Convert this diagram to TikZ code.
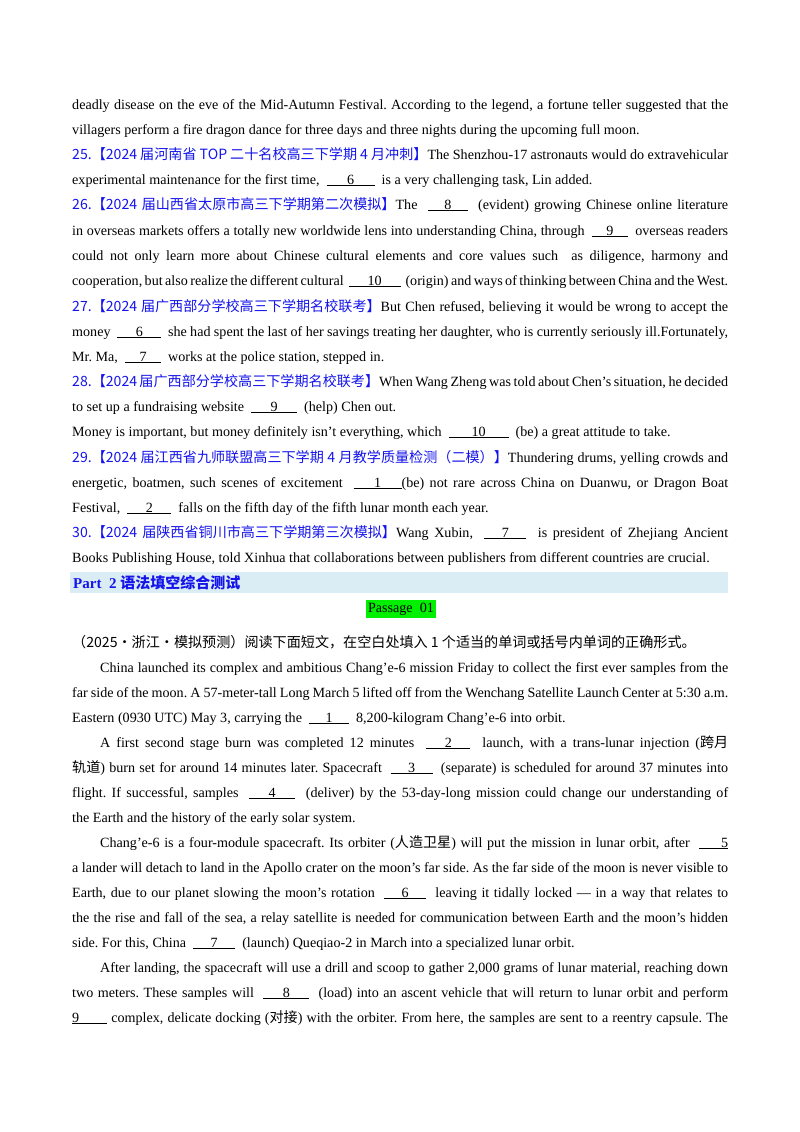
\documentclass[tikz,border=0pt]{standalone}
\usepackage{fontspec}
\setmainfont{Liberation Serif}
\newfontfamily\cjk{Noto Sans CJK SC}
\definecolor{labelblue}{RGB}{20,20,235}
\definecolor{barblue}{RGB}{218,236,244}
\definecolor{passgreen}{RGB}{0,240,0}
\frenchspacing
\newcommand\fl[2][656]{\makebox[#1pt][s]{#2}}
\newcommand\blank[2]{\underline{\makebox[#1pt]{#2}}}
\newcommand\tag[1]{{\color{labelblue}\cjk #1}}
\begin{document}
\begin{tikzpicture}[x=1pt,y=-1pt,
  txt/.style={anchor=base west,inner sep=0pt,font=\fontsize{14.1}{16}\selectfont},
  bar/.style={fill=barblue,draw=none},
  passage/.style={fill=passgreen,inner sep=2.5pt,font=\fontsize{14.1}{16}\selectfont}]
\useasboundingbox (0,0) rectangle (800,1132);
% first exercise block
\node[txt] (l1) at (72,109) {\fl{deadly disease on the eve of the Mid-Autumn Festival. According to the legend, a fortune teller suggested that the}};
\node[txt] (l2) at (72,134) {villagers perform a fire dragon dance for three days and three nights during the upcoming full moon.};
\node[txt] (l3) at (72,159) {\fl{\tag{25.【2024 届河南省 TOP 二十名校高三下学期 4 月冲刺】}The Shenzhou-17 astronauts would do extravehicular}};
\node[txt] (l4) at (72,184) {experimental maintenance for the first time, \ \blank{48}{6} \ is a very challenging task, Lin added.};
\node[txt] (l5) at (72,209) {\fl{\tag{26.【2024 届山西省太原市高三下学期第二次模拟】}The \ \blank{40}{8} \ (evident) growing Chinese online literature}};
\node[txt] (l6) at (72,235) {\fl{in overseas markets offers a totally new worldwide lens into understanding China, through \ \blank{36}{9} \ overseas readers}};
\node[txt] (l7) at (72,260) {\fl{could not only learn more about Chinese cultural elements and core values such \ as diligence, harmony and}};
\node[txt] (l8) at (72,285) {\fl{cooperation, but also realize the different cultural \ \blank{52}{10} \ (origin) and ways of thinking between China and the West.}};
\node[txt] (l9) at (72,311) {\fl{\tag{27.【2024 届广西部分学校高三下学期名校联考】}But Chen refused, believing it would be wrong to accept the}};
\node[txt] (l10) at (72,336) {\fl{money \ \blank{44}{6} \ she had spent the last of her savings treating her daughter, who is currently seriously ill.Fortunately,}};
\node[txt] (l11) at (72,361) {Mr. Ma, \ \blank{36}{7} \ works at the police station, stepped in.};
\node[txt] (l12) at (72,386) {\fl{\tag{28.【2024 届广西部分学校高三下学期名校联考】}When Wang Zheng was told about Chen's situation, he decided}};
\node[txt] (l13) at (72,411) {to set up a fundraising website \ \blank{46}{9} \ (help) Chen out.};
\node[txt] (l14) at (72,436) {Money is important, but money definitely isn't everything, which \ \blank{60}{10} \ (be) a great attitude to take.};
\node[txt] (l15) at (72,462) {\fl{\tag{29.【2024 届江西省九师联盟高三下学期 4 月教学质量检测（二模）】}Thundering drums, yelling crowds and}};
\node[txt] (l16) at (72,487) {\fl{energetic, boatmen, such scenes of excitement \ \blank{48}{1}(be) not rare across China on Duanwu, or Dragon Boat}};
\node[txt] (l17) at (72,512) {Festival, \ \blank{44}{2} \ falls on the fifth day of the fifth lunar month each year.};
\node[txt] (l18) at (72,537) {\fl{\tag{30.【2024 届陕西省铜川市高三下学期第三次模拟】}Wang Xubin, \ \blank{42}{7} \ is president of Zhejiang Ancient}};
\node[txt] (l19) at (72,562) {Books Publishing House, told Xinhua that collaborations between publishers from different countries are crucial.};
% part heading
\fill[bar] (70,572) rectangle (728,593);
\node[txt,font=\fontsize{15}{16}\selectfont\bfseries,text=labelblue] (part) at (73,588) {Part\ \ 2 {\cjk 语法填空综合测试}};
\node[passage] (pass) at (401,609) {Passage\ \ 01};
% passage text
\node[txt] (p0) at (72,647) {{\cjk （2025·浙江·模拟预测）阅读下面短文，在空白处填入 1 个适当的单词或括号内单词的正确形式。}};
\node[txt] (p1) at (100,672) {\fl[628]{China launched its complex and ambitious Chang'e-6 mission Friday to collect the first ever samples from the}};
\node[txt] (p2) at (72,697) {\fl{far side of the moon. A 57-meter-tall Long March 5 lifted off from the Wenchang Satellite Launch Center at 5:30 a.m.}};
\node[txt] (p3) at (72,722) {Eastern (0930 UTC) May 3, carrying the \ \blank{40}{1} \ 8,200-kilogram Chang'e-6 into orbit.};
\node[txt] (p4) at (100,747) {\fl[628]{A first second stage burn was completed 12 minutes \ \blank{44}{2} \ launch, with a trans-lunar injection ({\cjk 跨月}}};
\node[txt] (p5) at (72,772) {\fl{{\cjk 轨道}) burn set for around 14 minutes later. Spacecraft \ \blank{42}{3} \ (separate) is scheduled for around 37 minutes into}};
\node[txt] (p6) at (72,797) {\fl{flight. If successful, samples \ \blank{46}{4} \ (deliver) by the 53-day-long mission could change our understanding of}};
\node[txt] (p7) at (72,822) {the Earth and the history of the early solar system.};
\node[txt] (p8) at (100,847) {\fl[628]{Chang'e-6 is a four-module spacecraft. Its orbiter ({\cjk 人造卫星}) will put the mission in lunar orbit, after \ \underline{\hspace{22pt}5}}};
\node[txt] (p9) at (72,872) {\fl{a lander will detach to land in the Apollo crater on the moon's far side. As the far side of the moon is never visible to}};
\node[txt] (p10) at (72,897) {\fl{Earth, due to our planet slowing the moon's rotation \ \blank{42}{6} \ leaving it tidally locked --- in a way that relates to}};
\node[txt] (p11) at (72,922) {\fl{the the rise and fall of the sea, a relay satellite is needed for communication between Earth and the moon's hidden}};
\node[txt] (p12) at (72,947) {side. For this, China \ \blank{42}{7} \ (launch) Queqiao-2 in March into a specialized lunar orbit.};
\node[txt] (p13) at (100,972) {\fl[628]{After landing, the spacecraft will use a drill and scoop to gather 2,000 grams of lunar material, reaching down}};
\node[txt] (p14) at (72,997) {\fl{two meters. These samples will \ \blank{46}{8} \ (load) into an ascent vehicle that will return to lunar orbit and perform}};
\node[txt] (p15) at (72,1022) {\fl{\underline{9\hspace{28pt}} complex, delicate docking ({\cjk 对接}) with the orbiter. From here, the samples are sent to a reentry capsule. The}};
\end{tikzpicture}
\end{document}
